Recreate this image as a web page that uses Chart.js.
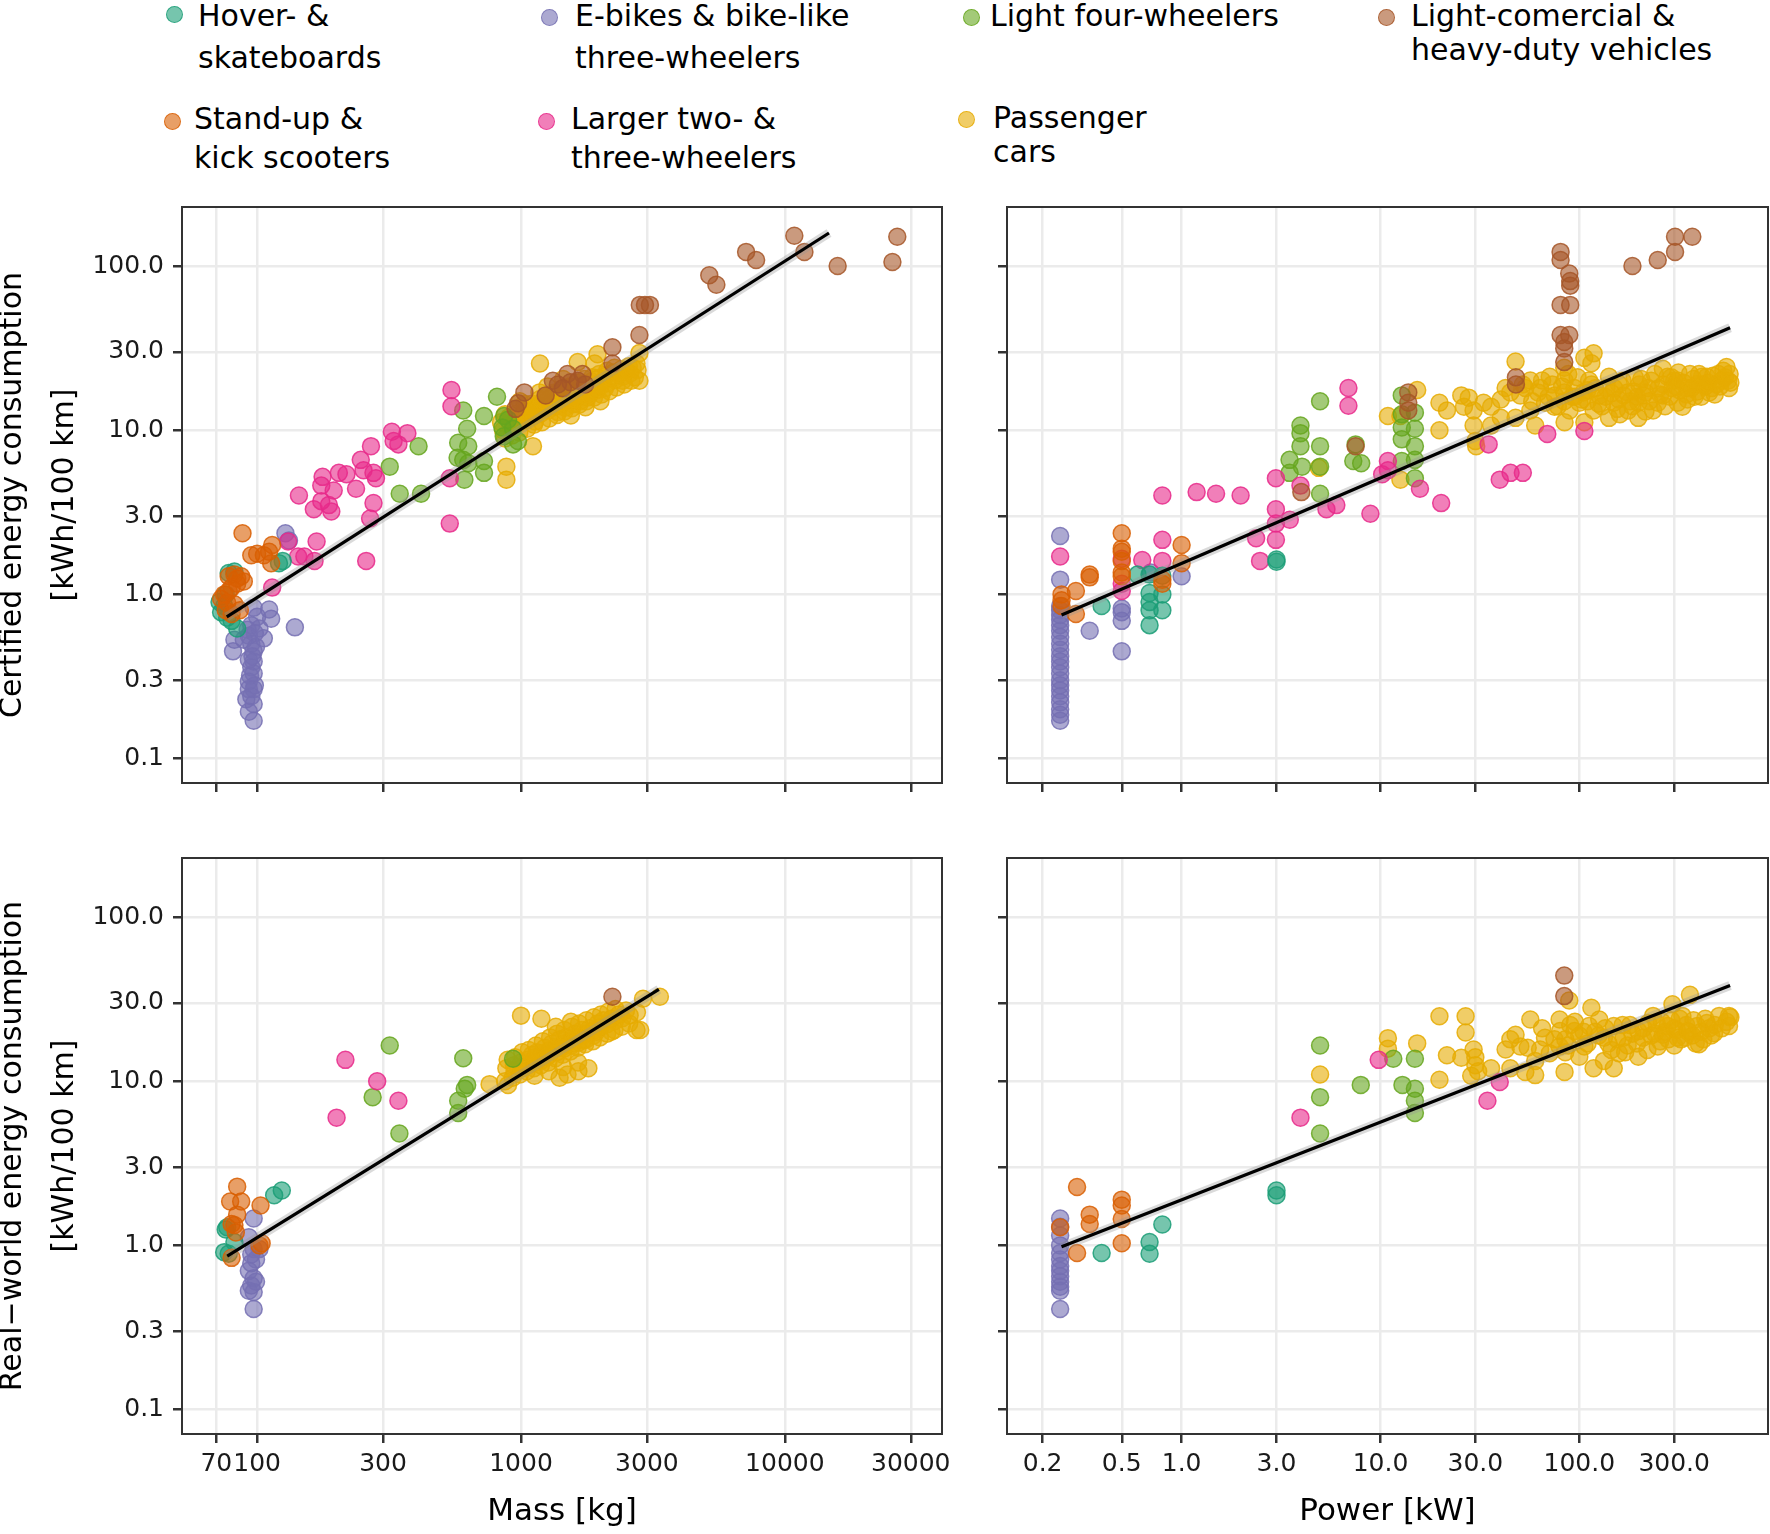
<!DOCTYPE html>
<html><head><meta charset="utf-8">
<script src="https://cdn.jsdelivr.net/npm/chart.js@4.4.1/dist/chart.umd.min.js"></script>
<style>
html,body{margin:0;padding:0;background:#fff;}
body{width:1770px;height:1534px;position:relative;overflow:hidden;font-family:'DejaVu Sans',sans-serif;}
canvas{position:absolute;}
.lg{position:absolute;font-size:30px;line-height:30px;color:#000;white-space:nowrap;}
.dot{position:absolute;width:15px;height:15px;border-radius:50%;border:1.5px solid;}
</style></head><body>
<div id="legend"></div>
<canvas id="tl" width="965" height="606" style="left:-13px;top:197px"></canvas>
<canvas id="tr" width="783" height="606" style="left:987px;top:197px"></canvas>
<canvas id="bl" width="965" height="686" style="left:-13px;top:848px"></canvas>
<canvas id="br" width="783" height="686" style="left:987px;top:848px"></canvas>
<script>
// ---------------- DATA ----------------
const categories = ['Hover- & skateboards','Stand-up & kick scooters','E-bikes & bike-like three-wheelers','Larger two- & three-wheelers','Light four-wheelers','Passenger cars','Light-comercial & heavy-duty vehicles'];

const massTicks = [70,100,300,1000,3000,10000,30000];
const massTickLabels = ['70','100','300','1000','3000','10000','30000'];
const powerTicks = [0.2,0.5,1,3,10,30,100,300];
const powerTickLabels = ['0.2','0.5','1.0','3.0','10.0','30.0','100.0','300.0'];
const consTicks = [0.1,0.3,1,3,10,30,100];
const consTickLabels = ['0.1','0.3','1.0','3.0','10.0','30.0','100.0'];

// Mass vs certified consumption
const massCertHover = [[82,1.38],[78,1.35],[75,0.85],[77,0.72],[80,0.69],[84,0.62],[121,1.55],[125,1.6],[73,0.78],[72,0.9],[76,1.0]];
const massCertStandup = [[88,2.36],[100,1.77],[106,1.73],[111,1.82],[114,2.0],[95,1.73],[113,1.55],[78,1.29],[82,1.32],[87,1.29],[84,1.16],[89,1.2],[75,1.0],[78,1.05],[73,0.94],[77,0.89],[82,0.87],[76,0.8],[86,0.8],[80,0.76],[84,1.25],[80,1.1]];
const massCertEbike = [[128,2.36],[132,2.13],[97,0.83],[111,0.81],[113,0.71],[139,0.63],[82,0.53],[81,0.45],[95,0.65],[93,0.56],[95,0.5],[97,0.45],[93,0.4],[95,0.36],[97,0.33],[93,0.295],[97,0.265],[95,0.24],[91,0.23],[97,0.215],[93,0.193],[97,0.17],[106,0.54],[89,0.53],[100,0.73],[102,0.62],[92,0.61],[97,0.39],[94,0.32],[98,0.28],[93,0.265],[99,0.48],[96,0.42],[98,0.58]];
const massCertLarger = [[545,17.6],[545,14.0],[324,9.8],[371,9.6],[343,8.2],[270,8.0],[247,6.6],[177,5.2],[204,5.5],[218,5.4],[253,5.7],[276,5.5],[282,5.1],[237,4.4],[195,4.3],[175,4.6],[144,4.0],[164,3.3],[191,3.2],[187,3.5],[276,3.6],[268,2.9],[537,5.1],[537,2.7],[259,1.6],[168,2.1],[165,1.6],[143,1.7],[131,2.1],[114,1.1],[151,1.7],[329,8.6],[175,3.7]];
const massCertLight4 = [[811,16.0],[724,12.2],[604,13.2],[625,10.2],[578,8.4],[631,8.0],[409,8.0],[318,6.0],[604,6.6],[575,6.8],[631,6.3],[724,6.5],[724,5.5],[610,5.0],[418,4.1],[347,4.1],[933,8.2],[974,8.6],[863,12.2],[893,11.6],[850,10.4],[933,10.2],[860,9.2]];
const massCertPassenger = [[1180,25.5],[1640,26],[1950,29],[1900,25.5],[2810,29.5],[2810,20],[1110,8],[880,6],[880,5],[2430,20],[2700,21],
 [855,10.0],[840,11.2],[870,8.9],[870,12.5],[912,10.5],[900,12.0],[925,9.3],[930,11.0],
 [974,11.0],[960,12.6],[985,9.7],[970,13.5],[990,15.0],[1040,11.5],[1025,13.0],[1055,10.2],[1050,12.2],[1030,14.5],
 [1110,12.1],[1095,13.8],[1120,10.8],[1100,14.5],[1130,11.3],[1185,12.6],[1170,14.2],[1200,11.2],[1180,15.5],[1195,13.4],[1175,17.0],
 [1264,13.2],[1250,15.0],[1280,11.8],[1255,16.0],[1275,14.0],[1260,18.5],[1350,13.9],[1330,15.8],[1370,12.4],[1340,17.0],[1360,14.8],[1380,12.9],
 [1440,14.6],[1420,16.5],[1460,13.0],[1430,18.0],[1450,15.5],[1470,13.7],[1445,20.5],[1540,15.3],[1520,17.2],[1560,13.6],[1530,18.5],[1550,16.2],[1570,14.4],[1545,12.3],
 [1641,16.0],[1620,18.0],[1660,14.3],[1630,19.5],[1650,17.0],[1670,15.0],[1750,16.7],[1730,18.8],[1770,15.0],[1740,20.5],[1760,17.5],[1780,15.8],[1755,13.8],
 [1870,17.6],[1850,19.8],[1890,15.8],[1860,21.0],[1880,18.5],[1995,18.4],[1970,20.8],[2020,16.5],[1980,22.0],[2010,19.5],[2000,15.0],
 [2130,19.3],[2100,21.5],[2160,17.3],[2120,23.0],[2270,20.2],[2240,22.5],[2300,18.2],[2260,24.0],[2430,21.2],[2400,23.5],[2460,19.0],
 [2590,22.2],[2560,24.5],[2620,20.0],[2765,23.3],[2740,25.5],
 [1150,14.0],[1220,15.2],[1300,14.5],[1320,16.5],[1390,15.5],[1410,17.5],[1480,16.0],[1500,18.0],[1580,17.0],[1600,15.5],[1690,17.5],[1710,19.0],
 [1800,18.0],[1820,16.5],[1900,19.0],[1930,17.5],[2050,20.0],[2080,18.0],[2200,21.0],[2350,22.0],[2500,23.0],[2650,24.0],[1000,12.0],[1080,13.0]];
const massCertHeavy = [[10860,153],[11860,122],[26670,151],[25560,106],[15850,100],[7130,122],[7780,109],[5170,88],[5500,77],[2820,58],[3080,58],[2950,58],[2810,38],[2220,32],[2220,25.5],[1320,20],[1500,22],[1710,22],[1540,19.6],[1380,19],[1750,19],[1030,17],[975,14.6],[953,13.5],[1240,16.3],[1440,18],[1640,20]];
const massCertFit = [[76.7,0.73],[14700,159]];

// Power vs certified consumption
const powerCertHover = [[0.6,1.32],[0.69,1.32],[0.69,1.02],[0.69,0.8],[0.69,0.65],[0.8,1.0],[0.8,0.8],[0.396,0.85],[3.0,1.58],[3.0,1.63],[0.69,0.9],[0.8,1.3]];
const powerCertStandup = [[0.5,2.36],[0.5,1.82],[0.5,1.6],[0.5,1.36],[0.5,1.29],[1.0,2.0],[1.0,1.55],[0.345,1.32],[0.345,1.27],[0.294,1.05],[0.294,0.76],[0.249,1.0],[0.249,0.85],[0.8,1.23],[0.8,1.16],[0.5,1.9],[0.249,0.92]];
const powerCertEbike = [[0.245,2.27],[0.245,1.23],[0.5,0.82],[0.5,0.69],[0.5,0.45],[0.345,0.6],[1.0,1.29],[0.7,1.36],[0.245,0.85],[0.245,0.8],[0.245,0.75],[0.245,0.7],[0.245,0.65],[0.245,0.6],[0.245,0.55],[0.245,0.5],[0.245,0.46],[0.245,0.42],[0.245,0.39],[0.245,0.36],[0.245,0.33],[0.245,0.3],[0.245,0.28],[0.245,0.26],[0.245,0.24],[0.245,0.22],[0.245,0.2],[0.245,0.185],[0.245,0.17],[0.5,0.78]];
const powerCertLarger = [[6.9,18.1],[6.9,14.1],[0.8,4.0],[1.19,4.2],[1.49,4.1],[1.98,4.0],[2.98,5.1],[3.96,4.6],[5.35,3.3],[6.0,3.5],[8.9,3.1],[15.8,4.4],[20.2,3.6],[10.9,6.5],[10.2,5.4],[10.9,5.7],[2.98,3.3],[2.98,2.7],[3.5,2.85],[2.37,2.2],[2.98,2.15],[2.48,1.6],[69,9.5],[106,9.9],[39.8,5.0],[45.1,5.5],[52,5.5],[35,8.2],[0.245,1.7],[0.8,2.15],[0.634,1.62],[0.8,1.6],[0.5,1.65],[0.5,1.05],[0.5,1.16]];
const powerCertLight4 = [[4.97,15],[3.96,9.6],[3.96,8.0],[3.49,6.6],[4.03,6.0],[4.97,8.0],[4.97,6.0],[4.97,4.1],[3.49,5.5],[7.3,6.5],[8.0,6.3],[7.5,8.2],[12.8,16.3],[12.8,12.5],[14.9,12.8],[12.8,10.4],[14.9,10.2],[12.8,8.8],[14.9,8.0],[14.9,6.6],[12.8,6.5],[14.9,5.1],[3.96,10.7]];
const powerCertPassenger = [[10.9,12.2],[12.6,12.2],[15.3,17.6],[19.8,14.7],[21.6,13.2],[19.8,10.0],[25.5,16.3],[27.8,15.8],[29.4,13.2],[29.4,10.7],[30,8.6],[30.3,8.0],[36,13.9],[40.3,15.4],[47.8,26.2],[56.7,20.1],[12.6,5.0],[4.9,5.9],[106,27.6],[115,25.6],[118,29.4],[263,23.7],[278,21.2],[312,20.1],[350,18.1],[392,19.1],[438,21.2],[550,24.3],[566,18.1],[520,20.1],[464,18.1],[330,13.9],[235,13.2],[198,11.9],[209,16.3],[188,17.2],[392,17.2],[350,15.4],[42.6,18.1],[50.5,16.3],[56.7,13.2],[63.5,18.1],[67.2,14.7],[75.3,16.3],[84.3,20.1],[89.3,13.2],[94.5,18.1],[103,15.4],[112,20.1],[118,13.2],[126,16.3],[137,18.1],[149,14.7],[158,19.1],[167,16.3],[176,13.2],[106,11.2],[84.3,11.2],[60,10.7],[47.8,11.9],[40.3,11.9],[36,10.7],[71,21.2],[141,21.2],[222,18.1],[248,14.7],[294,18.1],[312,14.7],[414,21.2],[490,19.1],[263,16.3],[198,14.7],[141,11.9],[65,20.1],[53.5,18.1],[26.3,13.9],[33,14.7],[75,13.9],[100,14.7],[158,15.4],
 [84,24],[84,17],[84,15],[88,22],[300,20],[320,17.5],[360,22],[380,16],[420,19],[450,17],[500,22],[540,21],[560,20],[230,20],[250,18],[270,14],[180,15],[200,19],[215,13],[120,18],[130,14],[95,16],[110,17.5],[145,16.8],[160,12.5],[190,21],
 [105,17],[110,15],[115,19],[125,14.5],[135,16],[150,18],[155,13.5],[165,20],[175,17],[185,14],[195,16],[205,20.5],[215,17],[225,15],[240,22],[255,16.5],[265,19],[285,16],[290,21],[305,18.5],[315,22.5],[335,19.5],[345,16.5],[365,18],[375,20.5],[400,22],[410,16],[430,18.5],[445,19.5],[470,21.5],[480,16.5],[510,18.5],[530,23],[570,22],[575,19.5],
 [45,17],[52,19],[58,15],[62,17],[70,16],[73,19],[78,14],[82,18.5],[92,16],[98,21]];
const powerCertHeavy = [[80.5,122],[80.5,109],[89,90],[90,81],[90,76],[80.5,58],[90,58],[80.5,38],[89,38],[84,34.5],[84,31.5],[84,26],[185,100],[248,109],[303,151],[370,151],[303,122],[48,21],[48,19],[13.8,17],[13.8,14.7],[13.8,13.2],[7.5,8.0],[4.0,4.2]];
const powerCertFit = [[0.249,0.75],[573,42.1]];

// Mass vs real-world consumption
const massRealHover = [[116,2.02],[124,2.16],[77,1.29],[75,0.91],[78,0.89],[82,1.05],[76,1.25]];
const massRealStandup = [[84,2.28],[79,1.85],[87,1.85],[84,1.54],[103,1.75],[80,1.35],[82,1.33],[80,0.84],[104,1.03],[102,1.0],[83,1.2]];
const massRealEbike = [[97,1.46],[93,1.12],[97,0.95],[99,0.82],[95,0.78],[93,0.7],[97,0.63],[95,0.57],[93,0.53],[97,0.52],[97,0.41],[102,0.95],[95,0.88],[99,0.6]];
const massRealLarger = [[216,13.5],[285,10.0],[343,7.6],[200,6.0]];
const massRealLight4 = [[318,16.5],[274,8.0],[346,4.8],[604,13.8],[625,9.5],[612,9.0],[578,7.6],[578,6.4],[933,13.7]];
const massRealPassenger = [[3360,32.7],[2900,31.8],[2830,20.5],[1000,25.1],[760,9.6],[893,9.5],
 [880,12.0],[870,10.0],[890,13.5],[940,12.5],[930,10.5],[950,14.0],[945,11.5],[1000,13.0],[990,11.0],[1010,15.0],[1005,12.0],
 [1060,13.5],[1050,11.5],[1070,15.5],[1065,12.5],[1130,14.0],[1120,12.0],[1140,16.5],[1135,13.0],[1125,10.8],
 [1200,14.8],[1190,12.5],[1210,17.5],[1205,13.5],[1195,24.0],[1280,15.5],[1270,13.0],[1290,18.5],[1285,14.5],[1275,11.5],
 [1360,16.2],[1350,13.8],[1370,19.5],[1365,15.0],[1355,21.5],[1450,17.0],[1440,14.5],[1460,20.5],[1455,15.8],[1445,12.2],
 [1550,17.8],[1540,15.2],[1560,21.5],[1555,16.5],[1545,23.0],[1650,18.6],[1640,16.0],[1660,22.5],[1655,17.2],[1645,13.0],
 [1760,19.5],[1750,16.8],[1770,23.5],[1765,18.0],[1880,20.4],[1870,17.5],[1890,24.5],[1885,19.0],
 [2000,21.3],[1990,18.5],[2010,25.5],[2130,22.3],[2120,19.5],[2140,26.5],[2270,23.3],[2260,20.5],[2280,27.5],
 [2420,24.2],[2410,21.5],[2580,25.2],[2570,22.5],[2750,26.3],[2740,20.5],[1500,11.0],[1650,11.5],[1800,12.0],[1400,10.5],
 [1150,15.0],[1230,16.0],[1310,17.0],[1400,18.0],[1480,18.5],[1600,19.5],[1700,20.5],[1820,21.0],[1950,22.5],[2200,24.0],[2350,25.5],[2500,27.0],
 [1100,14.5],[1250,14.0],[1420,16.0],[1580,17.0],[1720,17.8],[1930,20.0],[2050,23.5],[2200,20.0]];
const massRealHeavy = [[2220,32.7]];
const massRealFit = [[77,0.86],[3330,36.3]];

// Power vs real-world consumption
const powerRealHover = [[3.0,2.16],[3.0,2.02],[0.396,0.9],[0.69,1.05],[0.69,0.89],[0.8,1.34]];
const powerRealStandup = [[0.298,2.27],[0.345,1.54],[0.345,1.35],[0.5,1.9],[0.5,1.75],[0.5,1.45],[0.5,1.03],[0.298,0.9],[0.245,1.29]];
const powerRealEbike = [[0.245,1.46],[0.245,1.3],[0.245,1.15],[0.245,1.0],[0.245,0.9],[0.245,0.82],[0.245,0.75],[0.245,0.7],[0.245,0.65],[0.245,0.6],[0.245,0.56],[0.245,0.53],[0.245,0.41]];
const powerRealLarger = [[9.8,13.5],[3.96,6.0],[39.8,9.9],[34.5,7.6]];
const powerRealLight4 = [[4.97,16.5],[4.97,8.0],[4.97,4.8],[7.96,9.5],[11.6,13.7],[14.9,13.7],[12.9,9.5],[14.9,9.0],[14.9,7.6],[14.9,6.4]];
const powerRealPassenger = [[19.8,24.9],[26.8,24.9],[26.8,19.8],[10.9,18.3],[10.9,15.8],[15.3,17.0],[21.6,14.4],[19.8,10.2],[4.97,11.0],[25.5,13.9],[29.4,15.6],[28.6,10.8],[36,12.0],[89,31],[115,28],[360,33.6],[42.6,15.6],[47.8,19.2],[56.7,23.8],[60,13.3],[60,10.9],[67.2,18.4],[79.6,23.8],[79.6,16.3],[84.3,11.4],[94.5,20.2],[106,16.3],[118,12.0],[126,23.8],[133,18.4],[149,21.7],[149,12.0],[158,14.8],[198,20.2],[198,14.1],[235,25.0],[248,16.3],[278,21.7],[294,29.4],[312,18.4],[350,20.2],[392,21.7],[400,16.8],[476,19.6],[505,25.0],[566,25.0],[566,21.7],[330,25],[263,19.2],[71,14.8],[100,14.1],[50.5,16.3],[80,20.2],[112,21.7],[167,18.4],[209,18.4],[222,22.6],[340,18.4],[438,22.6],[133,13.3],[63.5,15.6],[45,12],[53.5,11.4],
 [30,14],[30,12.5],[31,11.5],[85,18],[85,15],[90,22],[100,19],[120,20],[140,17],[170,15],[180,22],[260,23],[280,18],[300,21],[320,24],[370,19],[420,18],[450,21],[300,16.5],[240,19.5],
 [105,20],[110,17],[125,19],[135,21],[145,15.5],[155,18],[165,22],[175,16.5],[185,19.5],[195,17],[210,21],[220,15.5],[230,19],[245,22.5],[255,17.5],[270,20],[290,23.5],[310,20.5],[325,18],[345,22],[355,20],[375,23.5],[385,17],[410,20],[430,24],[460,19],[480,22],[520,21],[550,23],[575,24.5],[45,18],[55,16],[65,21],[75,18],[88,16.5],[95,23]];
const powerRealHeavy = [[84,44],[84,33]];
const powerRealFit = [[0.249,0.98],[573,38.3]];

// ---------------- STYLE ----------------
const catColors = [[27,158,119],[217,95,2],[117,112,179],[231,41,138],[102,166,30],[230,171,2],[166,86,40]];
const catOrder = [4,3,8,5,6,7,2]; // drawing order (lower = on top)
Chart.defaults.font.family = "'DejaVu Sans', sans-serif";

// legend (HTML)
const legendLayout = [
  {c:0, dot:[175,15], lines:[[198,1,'Hover- &'],[198,43,'skateboards']]},
  {c:2, dot:[550,18], lines:[[575,1,'E-bikes & bike-like'],[575,43,'three-wheelers']]},
  {c:4, dot:[972,18], lines:[[990,1,'Light four-wheelers']]},
  {c:6, dot:[1387,18], lines:[[1411,1,'Light-comercial &'],[1411,35,'heavy-duty vehicles']]},
  {c:1, dot:[173,122], lines:[[194,104,'Stand-up &'],[194,143,'kick scooters']]},
  {c:3, dot:[547,122], lines:[[571,104,'Larger two- &'],[571,143,'three-wheelers']]},
  {c:5, dot:[967,120], lines:[[993,103,'Passenger'],[993,137,'cars']]}
];
const lg = document.getElementById('legend');
legendLayout.forEach(item => {
  const [r,g,b] = catColors[item.c];
  const d = document.createElement('div');
  d.className = 'dot';
  d.style.left = (item.dot[0]-9)+'px'; d.style.top = (item.dot[1]-9)+'px';
  d.style.background = `rgba(${r},${g},${b},0.6)`;
  d.style.borderColor = `rgba(${r},${g},${b},0.8)`;
  lg.appendChild(d);
  item.lines.forEach(([x,y,t]) => {
    const s = document.createElement('div');
    s.className = 'lg'; s.style.left = x+'px'; s.style.top = y+'px'; s.textContent = t;
    lg.appendChild(s);
  });
});

const panelBorder = {
  id:'panelBorder',
  afterDraw(chart){
    const {ctx, chartArea:a} = chart;
    ctx.save(); ctx.strokeStyle = '#333'; ctx.lineWidth = 2;
    ctx.strokeRect(a.left, a.top, a.right-a.left, a.bottom-a.top);
    ctx.restore();
  }
};

const toXY = arr => arr.map(([x,y]) => ({x, y}));
const noPad = s => { s.paddingTop = 0; s.paddingBottom = 0; s.paddingLeft = 0; s.paddingRight = 0; };

function makePanel(id, cfg){
  const datasets = cfg.sets.map((arr, i) => {
    const [r,g,b] = catColors[i];
    return {
      label: categories[i], data: toXY(arr), order: catOrder[i],
      backgroundColor: `rgba(${r},${g},${b},0.6)`, borderColor: `rgba(${r},${g},${b},0.85)`,
      borderWidth: 1.5, pointRadius: 8.5, pointHoverRadius: 8.5
    };
  });
  datasets.push({type:'line', label:'band', data: toXY(cfg.fit), order:1, borderColor:'rgba(150,150,150,0.35)', borderWidth:9, pointRadius:0, showLine:true, fill:false});
  datasets.push({type:'line', label:'fit', data: toXY(cfg.fit), order:0, borderColor:'#000', borderWidth:3.2, pointRadius:0, showLine:true, fill:false});
  const grid = {color:'#EBEBEB', lineWidth:2.5, drawTicks:true, tickLength:9, tickColor:'#333', tickWidth:2.5};
  new Chart(document.getElementById(id), {
    type:'scatter',
    data:{datasets},
    plugins:[panelBorder],
    options:{
      responsive:false, animation:false, devicePixelRatio:1, events:[],
      layout:{padding:cfg.padding, autoPadding:false},
      plugins:{legend:{display:false}, tooltip:{enabled:false}},
      scales:{
        x:{
          type:'logarithmic', position:'bottom', min:cfg.xMin, max:cfg.xMax, bounds:'data',
          afterBuildTicks: a => { a.ticks = cfg.xTicks.map(v => ({value:v})); },
          afterFit: s => { s.height = cfg.xH; noPad(s); },
          ticks:{display:cfg.showX, autoSkip:false, maxRotation:0, minRotation:0, padding:6, color:'#1a1a1a', font:{size:25}, callback:(v,i)=>cfg.xLabels[i]},
          grid, border:{display:false},
          title:{display:!!cfg.xTitle, text:cfg.xTitle, color:'#000', font:{size:31}, padding:{top:0,bottom:3}}
        },
        y:{
          type:'logarithmic', position:'left', min:0.071, max:229, bounds:'data',
          afterBuildTicks: a => { a.ticks = consTicks.map(v => ({value:v})); },
          afterFit: s => { s.width = cfg.yW; noPad(s); },
          ticks:{display:cfg.showY, autoSkip:false, padding:9, color:'#1a1a1a', font:{size:25}, callback:(v,i)=>consTickLabels[i]},
          grid, border:{display:false},
          title:{display:!!cfg.yTitle, text:cfg.yTitle, color:'#000', font:{size:30, lineHeight:1.73}, padding:{top:0,bottom:0}}
        }
      }
    }
  });
}

const massRange = {xMin:51.9, xMax:39400, xTicks:massTicks, xLabels:massTickLabels};
const powerRange = {xMin:0.1324, xMax:889, xTicks:powerTicks, xLabels:powerTickLabels};

makePanel('tl', Object.assign({}, massRange, {
  sets:[massCertHover,massCertStandup,massCertEbike,massCertLarger,massCertLight4,massCertPassenger,massCertHeavy], fit:massCertFit,
  showX:false, showY:true, yTitle:['Certified energy consumption','[kWh/100 km]'], xTitle:'',
  yW:195, xH:20, padding:{top:10,right:10,left:0,bottom:0}}));
makePanel('tr', Object.assign({}, powerRange, {
  sets:[powerCertHover,powerCertStandup,powerCertEbike,powerCertLarger,powerCertLight4,powerCertPassenger,powerCertHeavy], fit:powerCertFit,
  showX:false, showY:false, yTitle:'', xTitle:'',
  yW:20, xH:20, padding:{top:10,right:2,left:0,bottom:0}}));
makePanel('bl', Object.assign({}, massRange, {
  sets:[massRealHover,massRealStandup,massRealEbike,massRealLarger,massRealLight4,massRealPassenger,massRealHeavy], fit:massRealFit,
  showX:true, showY:true, yTitle:['Real\u2212world energy consumption','[kWh/100 km]'], xTitle:'Mass [kg]',
  yW:195, xH:100, padding:{top:10,right:10,left:0,bottom:0}}));
makePanel('br', Object.assign({}, powerRange, {
  sets:[powerRealHover,powerRealStandup,powerRealEbike,powerRealLarger,powerRealLight4,powerRealPassenger,powerRealHeavy], fit:powerRealFit,
  showX:true, showY:false, yTitle:'', xTitle:'Power [kW]',
  yW:20, xH:100, padding:{top:10,right:2,left:0,bottom:0}}));
</script>
</body></html>
